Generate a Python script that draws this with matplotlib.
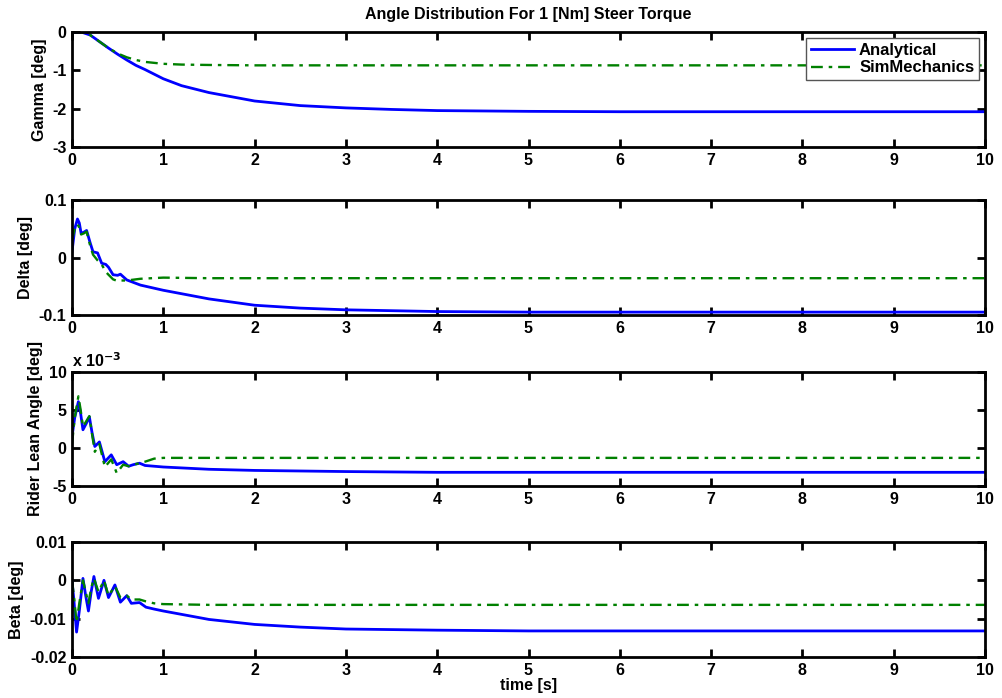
import matplotlib
matplotlib.use('Agg')
import matplotlib.pyplot as plt
from matplotlib.ticker import FuncFormatter

plt.rcParams['font.family'] = ['Liberation Sans', 'DejaVu Sans']
plt.rcParams['font.weight'] = 'bold'
plt.rcParams['axes.unicode_minus'] = False
FS = 11.5

# --- data ---
t_gamma = [0, 0.1, 0.2, 0.3, 0.4, 0.5, 0.6, 0.7, 0.8, 1.0, 1.2, 1.5, 2.0, 2.5,
           3.0, 3.5, 4.0, 5.0, 6.0, 8.0, 10.0]
gamma_an = [0, 0, -0.08, -0.25, -0.42, -0.58, -0.73, -0.87, -0.98, -1.22, -1.4,
            -1.58, -1.8, -1.92, -1.98, -2.02, -2.05, -2.07, -2.08, -2.08, -2.08]
gamma_sm = [0, 0, -0.08, -0.25, -0.42, -0.56, -0.66, -0.73, -0.78, -0.83, -0.85,
            -0.86, -0.87, -0.87, -0.87, -0.87, -0.87, -0.87, -0.87, -0.87, -0.87]

t_delta = [0, 0.03, 0.06, 0.08, 0.1, 0.13, 0.16, 0.2, 0.23, 0.28, 0.325, 0.37, 0.4,
           0.45, 0.5, 0.53, 0.6, 0.75, 1.0, 1.5, 2.0, 2.5, 3.0, 4.0, 5.0, 7.0, 10.0]
delta_an = [0.01, 0.05, 0.067, 0.06, 0.042, 0.044, 0.047, 0.025, 0.01, 0.008,
            -0.01, -0.012, -0.017, -0.03, -0.031, -0.029, -0.039, -0.048, -0.057,
            -0.072, -0.083, -0.088, -0.091, -0.094, -0.095, -0.095, -0.095]
delta_sm = [0.03, 0.05, 0.058, 0.052, 0.04, 0.042, 0.045, 0.02, 0.005, -0.005,
            -0.012, -0.025, -0.03, -0.038, -0.041, -0.04, -0.04, -0.037, -0.035,
            -0.036, -0.036, -0.036, -0.036, -0.036, -0.036, -0.036, -0.036]

t_rider = [0, 0.03, 0.07, 0.095, 0.12, 0.155, 0.19, 0.22, 0.25, 0.3, 0.36, 0.43,
           0.49, 0.56, 0.62, 0.67, 0.74, 0.8, 0.9, 1.0, 1.5, 2.0, 3.0, 4.0, 6.0, 10.0]
rider_an = [1.5e-3, 4.0e-3, 6.1e-3, 4.5e-3, 2.4e-3, 3.2e-3, 4.1e-3, 2.0e-3, 0.2e-3,
            0.8e-3, -1.8e-3, -0.9e-3, -2.2e-3, -1.8e-3, -2.4e-3, -2.2e-3, -2.0e-3,
            -2.3e-3, -2.4e-3, -2.5e-3, -2.8e-3, -2.95e-3, -3.1e-3, -3.2e-3, -3.2e-3,
            -3.2e-3]
rider_sm = [0.5e-3, 4.0e-3, 6.8e-3, 5.0e-3, 2.8e-3, 3.5e-3, 4.2e-3, 1.8e-3, -0.5e-3,
            0.5e-3, -2.5e-3, -1.5e-3, -3.3e-3, -2.2e-3, -2.4e-3, -2.2e-3, -2.0e-3,
            -1.8e-3, -1.4e-3, -1.3e-3, -1.3e-3, -1.3e-3, -1.3e-3, -1.3e-3, -1.3e-3,
            -1.3e-3]

t_beta = [0, 0.02, 0.05, 0.08, 0.12, 0.15, 0.18, 0.21, 0.24, 0.29, 0.35, 0.40,
          0.47, 0.53, 0.6, 0.65, 0.74, 0.81, 0.9, 1.0, 1.5, 2.0, 2.5, 3.0, 4.0,
          5.0, 10.0]
beta_an = [0, -0.005, -0.0135, -0.008, 0.0005, -0.004, -0.008, -0.003, 0.001,
           -0.0047, 0, -0.0045, -0.0012, -0.0057, -0.004, -0.006, -0.0058, -0.007,
           -0.0075, -0.008, -0.0102, -0.0115, -0.0122, -0.0127, -0.013, -0.0132,
           -0.0132]
beta_sm = [0, -0.004, -0.011, -0.006, 0, -0.003, -0.006, -0.002, 0.0005, -0.003, 0,
           -0.004, -0.0015, -0.0045, -0.004, -0.005, -0.005, -0.0055, -0.006,
           -0.0062, -0.0064, -0.0064, -0.0064, -0.0064, -0.0064, -0.0064, -0.0064]

panels = [
    (t_gamma, gamma_an, gamma_sm, 'Gamma [deg]', (-3, 0), [0, -1, -2, -3]),
    (t_delta, delta_an, delta_sm, 'Delta [deg]', (-0.1, 0.1), [0.1, 0, -0.1]),
    (t_rider, rider_an, rider_sm, 'Rider Lean Angle [deg]', (-5e-3, 10e-3),
     [10e-3, 5e-3, 0, -5e-3]),
    (t_beta, beta_an, beta_sm, 'Beta [deg]', (-0.02, 0.01), [0.01, 0, -0.01, -0.02]),
]

# axes boxes in figure pixels (top, bottom)
boxes = [(32, 147), (200, 315), (372, 486), (542, 657)]
W, H = 1002, 698

fig = plt.figure(figsize=(10.02, 6.98), dpi=100)
blue = (0, 0, 1)
green = (0, 0.5, 0)

for i, (t, an, sm, lab, ylim, yt) in enumerate(panels):
    top, bot = boxes[i]
    ax = fig.add_axes([72 / W, 1 - bot / H, (985 - 72) / W, (bot - top) / H])
    ax.plot(t, an, color=blue, lw=2, label='Analytical')
    ax.plot(t, sm, color=green, lw=1.7, dashes=(5, 2.5, 1.5, 2.5), label='SimMechanics')
    ax.set_xlim(0, 10)
    ax.set_ylim(*ylim)
    ax.set_xticks(range(11))
    ax.set_yticks(yt)
    ax.tick_params(direction='in', length=6, width=2, top=True, right=True,
                   labelsize=FS, pad=4)
    for s in ax.spines.values():
        s.set_linewidth(2)
    ax.set_ylabel(lab, fontsize=FS, fontweight='bold', labelpad=4)
    if i == 1:
        ax.yaxis.set_major_formatter(FuncFormatter(lambda v, p: '%g' % round(v, 3)))
    if i == 2:
        ax.yaxis.set_major_formatter(FuncFormatter(lambda v, p: '%g' % round(v * 1e3, 3)))
        ax.text(0.0, 1.02, 'x 10$^{-3}$', transform=ax.transAxes, fontsize=FS,
                fontweight='bold', ha='left', va='bottom')
    if i == 3:
        ax.yaxis.set_major_formatter(FuncFormatter(lambda v, p: '%g' % round(v, 4)))
        ax.set_xlabel('time [s]', fontsize=FS, fontweight='bold', labelpad=0)
    if i == 0:
        ax.set_title('Angle Distribution For 1 [Nm] Steer Torque', fontsize=FS,
                     fontweight='bold', pad=9)
        leg = ax.legend(loc='upper right', fancybox=False, framealpha=1,
                        edgecolor='#555555', handlelength=2.6, borderaxespad=0.35,
                        labelspacing=0.15, handletextpad=0.3, borderpad=0.3,
                        prop={'weight': 'bold', 'size': 12})
        leg.get_frame().set_linewidth(1)

fig.savefig('out.png', dpi=100)
